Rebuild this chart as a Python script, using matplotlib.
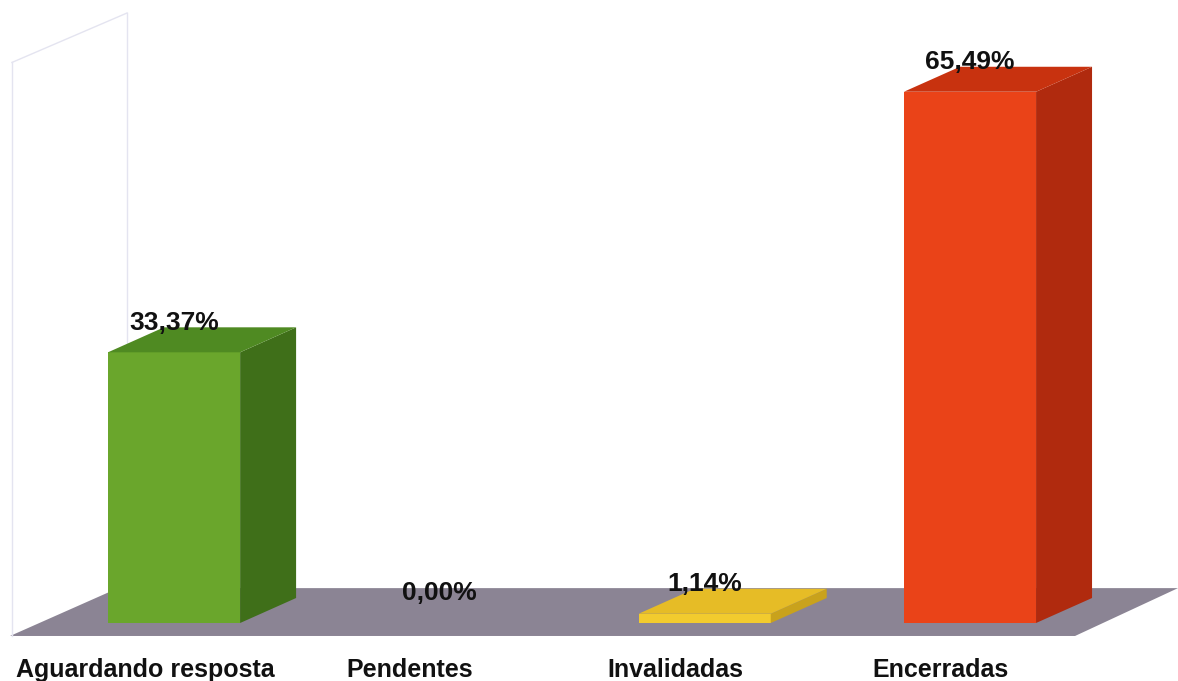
import matplotlib
matplotlib.use('Agg')
import matplotlib.pyplot as plt
from matplotlib.patches import Polygon

# data
categories = ['Aguardando resposta', 'Pendentes', 'Invalidadas', 'Encerradas']
values = [33.37, 0.00, 1.14, 65.49]
value_labels = ['33,37%', '0,00%', '1,14%', '65,49%']

# colours for each bar: front, side, top
front_colors = ['#6aa62c', '#6aa62c', '#f2cb2e', '#ea4318']
side_colors = ['#3f6f19', '#3f6f19', '#c9a21c', '#b02a0e']
top_colors = ['#4f8a22', '#4f8a22', '#e6bc26', '#c8320f']

plt.rcParams['font.family'] = ['Liberation Sans', 'DejaVu Sans']

fig = plt.figure(figsize=(11.78, 6.81), dpi=100)
ax = fig.add_axes([0, 0, 1, 1])
ax.set_xlim(-0.656, 3.784)
ax.set_ylim(-7.15, 76.8)
ax.axis('off')

# fake 3d offsets (depth) in data units
half_w = 0.249
ddx = 0.211
ddy = 3.08

# faint side wall on the left
wall = '#e4e4f0'
ax.plot([-0.611, -0.611], [-1.6, 69.1], color=wall, lw=1)
ax.plot([-0.177, -0.177], [4.0, 75.2], color=wall, lw=1)
ax.plot([-0.611, -0.177], [69.1, 75.2], color=wall, lw=1)

# floor
floor = Polygon([(-0.618, -1.6), (3.396, -1.6), (3.784, 4.3), (-0.211, 4.3)],
                closed=True, facecolor='#8b8494', edgecolor='none', zorder=1)
ax.add_patch(floor)

# bars: front faces through ax.bar, then side and top faces
x = list(range(len(categories)))
ax.bar(x, values, width=2 * half_w, color=front_colors, zorder=3)
for i, v in enumerate(values):
    if v <= 0:
        continue
    x0 = i - half_w
    x1 = i + half_w
    side = Polygon([(x1, 0), (x1 + ddx, ddy), (x1 + ddx, v + ddy), (x1, v)],
                   closed=True, facecolor=side_colors[i], edgecolor='none', zorder=3)
    top = Polygon([(x0, v), (x1, v), (x1 + ddx, v + ddy), (x0 + ddx, v + ddy)],
                  closed=True, facecolor=top_colors[i], edgecolor='none', zorder=3)
    ax.add_patch(side)
    ax.add_patch(top)

# value labels
for i, v in enumerate(values):
    ax.text(i, v + ddy - 0.9, value_labels[i], ha='center', va='bottom',
            fontsize=19, fontweight='bold', color='#111111', zorder=5)

# category labels
for i, c in enumerate(categories):
    ax.text(i - 0.11, -5.8, c, ha='center', va='center',
            fontsize=18, fontweight='bold', color='#111111')

fig.savefig('out.png', dpi=100)
